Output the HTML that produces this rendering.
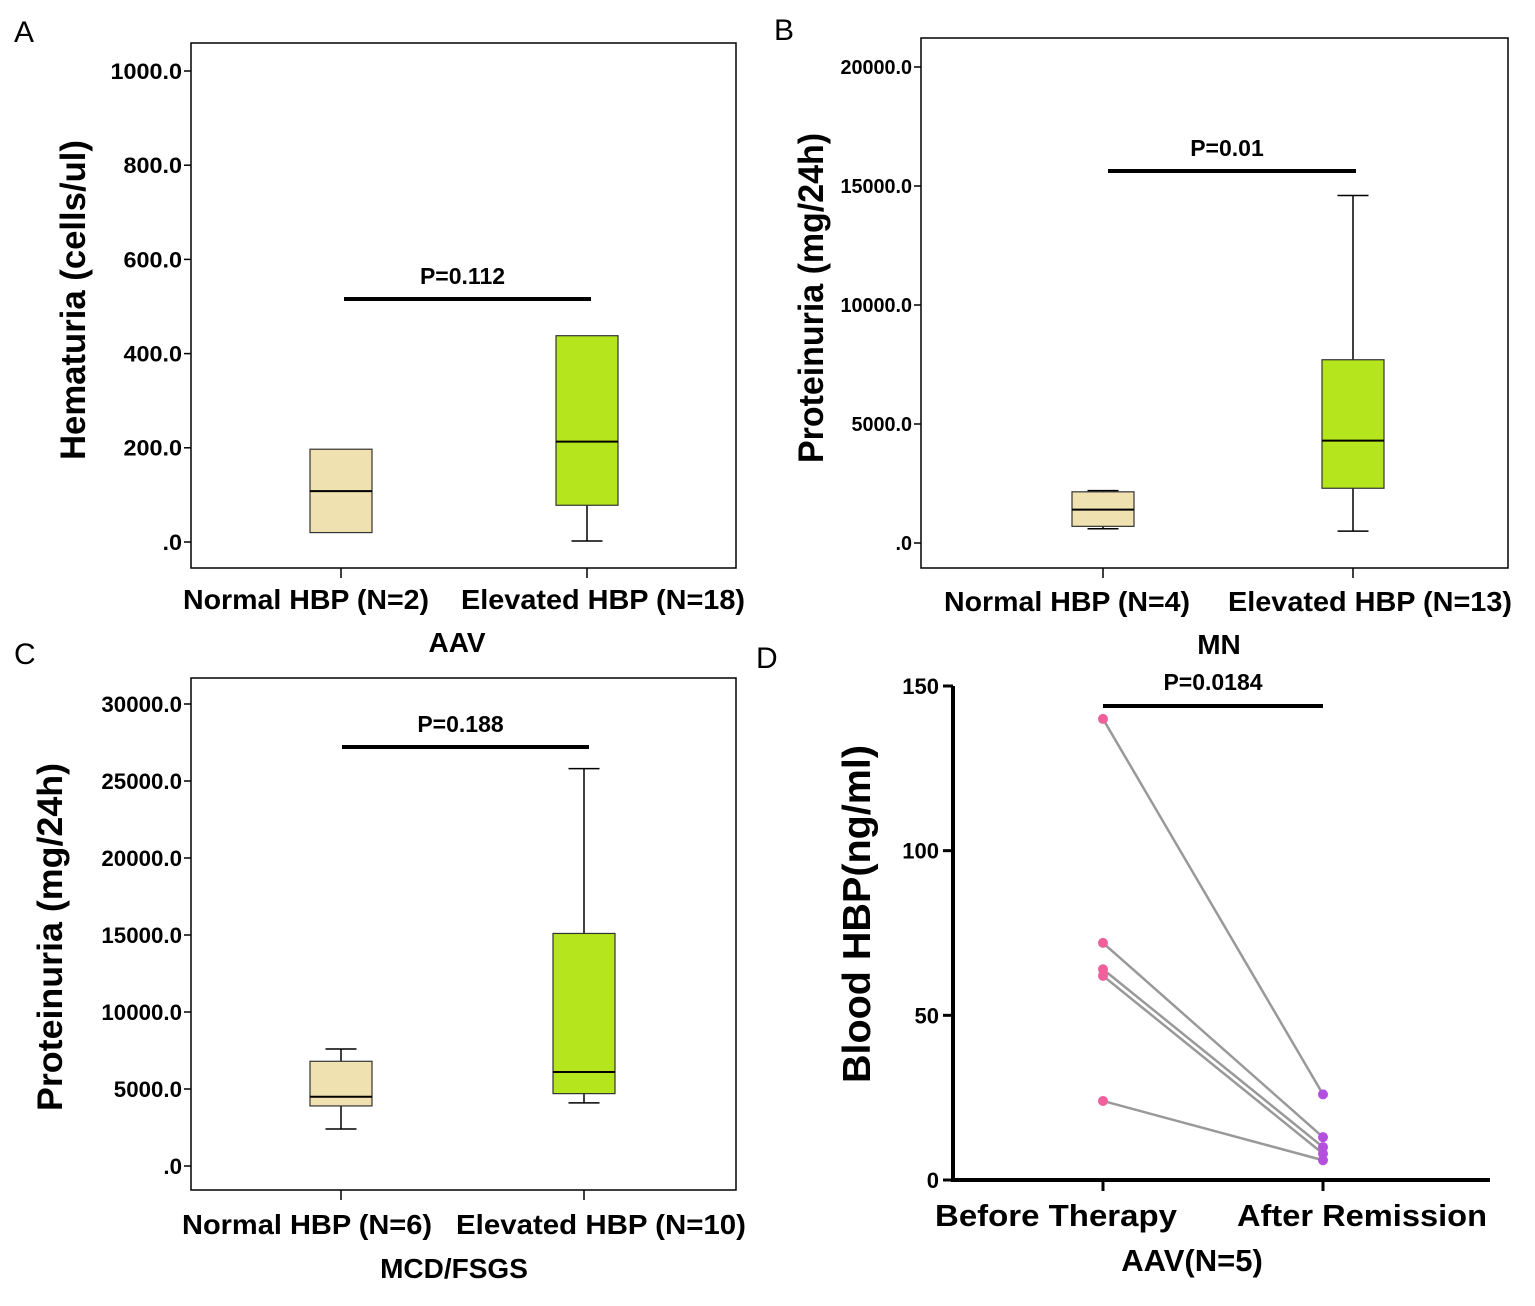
<!DOCTYPE html>
<html><head><meta charset="utf-8"><style>
html,body{margin:0;padding:0;background:#fff;}
svg{display:block;font-family:"Liberation Sans",sans-serif;}
</style></head><body>
<svg id="fig" width="1535" height="1306" viewBox="0 0 1535 1306"></svg>
<script>
// Panel A data
const aCats = ["Normal HBP (N=2)", "Elevated HBP (N=18)"];
const aTicks = [0, 200, 400, 600, 800, 1000];
const aTickLabels = [".0", "200.0", "400.0", "600.0", "800.0", "1000.0"];
const aLow = [20, 2];
const aQ1 = [20, 78];
const aMed = [108, 213];
const aQ3 = [197, 438];
const aHigh = [197, 438];
// Panel B data
const bCats = ["Normal HBP (N=4)", "Elevated HBP (N=13)"];
const bTicks = [0, 5000, 10000, 15000, 20000];
const bTickLabels = [".0", "5000.0", "10000.0", "15000.0", "20000.0"];
const bLow = [600, 500];
const bQ1 = [700, 2300];
const bMed = [1400, 4300];
const bQ3 = [2150, 7700];
const bHigh = [2200, 14600];
// Panel C data
const cCats = ["Normal HBP (N=6)", "Elevated HBP (N=10)"];
const cTicks = [0, 5000, 10000, 15000, 20000, 25000, 30000];
const cTickLabels = [".0", "5000.0", "10000.0", "15000.0", "20000.0", "25000.0", "30000.0"];
const cLow = [2400, 4100];
const cQ1 = [3900, 4700];
const cMed = [4500, 6100];
const cQ3 = [6800, 15100];
const cHigh = [7600, 25800];
// Panel D data
const dCats = ["Before Therapy", "After Remission"];
const dTicks = [0, 50, 100, 150];
const dBefore = [140, 72, 64, 62, 24];
const dAfter = [26, 13, 10, 8, 6];

const NS = "http://www.w3.org/2000/svg";
const svg = document.getElementById("fig");
function el(tag, attrs, parent, text) {
  const e = document.createElementNS(NS, tag);
  for (const k in attrs) e.setAttribute(k, attrs[k]);
  if (text !== undefined) e.textContent = text;
  (parent || svg).appendChild(e);
  return e;
}
function lin(d0, d1, r0, r1) { return v => r0 + (v - d0) * (r1 - r0) / (d1 - d0); }
function labWidth(s, cw) { let w = 0; for (const ch of s) w += (ch === "." ? 0.5 : 1) * cw; return w; }

function boxPanel(cfg) {
  const g = el("g", {});
  
  
  const y = lin(0, cfg.v1, cfg.y0, cfg.y1);
  const fr = el("rect", {x: cfg.fx0, y: cfg.fy0, width: cfg.fx1 - cfg.fx0, height: cfg.fy1 - cfg.fy0, fill: "none", stroke: "#000", "stroke-width": 1.5}, g);
  
  
  cfg.ticks.forEach((t, i) => {
    const yy = y(t);
    el("line", {x1: cfg.fx0 - 7, x2: cfg.fx0, y1: yy, y2: yy, stroke: "#000", "stroke-width": 1.5}, g);
    const tl = el("text", {x: cfg.fx0 - 9, y: yy + cfg.tfs * 0.36, "text-anchor": "end", "font-size": cfg.tfs, "font-weight": "bold", "textLength": labWidth(cfg.tickLabels[i], cfg.tcw), "lengthAdjust": "spacingAndGlyphs"}, g, cfg.tickLabels[i]);
    
    
  });
  const fills = ["#efe2b0", "#b5e61d"];
  cfg.cats.forEach((c, i) => {
    const cx = cfg.cx[i], hw = cfg.hw;
    el("line", {x1: cx, x2: cx, y1: cfg.fy1, y2: cfg.fy1 + 10, stroke: "#000", "stroke-width": 1.5}, g);
    const lab = el("text", {x: cfg.labX[i], y: cfg.labY, "text-anchor": "middle", "font-size": 28, "font-weight": "bold", "textLength": cfg.labW[i], "lengthAdjust": "spacingAndGlyphs"}, g, c);
    
    
    if (cfg.high[i] > cfg.q3[i]) {
      el("line", {x1: cx, x2: cx, y1: y(cfg.q3[i]), y2: y(cfg.high[i]), stroke: "#000", "stroke-width": 1.5}, g);
      el("line", {x1: cx - hw / 2, x2: cx + hw / 2, y1: y(cfg.high[i]), y2: y(cfg.high[i]), stroke: "#000", "stroke-width": 1.5}, g);
    }
    if (cfg.low[i] < cfg.q1[i]) {
      el("line", {x1: cx, x2: cx, y1: y(cfg.q1[i]), y2: y(cfg.low[i]), stroke: "#000", "stroke-width": 1.5}, g);
      el("line", {x1: cx - hw / 2, x2: cx + hw / 2, y1: y(cfg.low[i]), y2: y(cfg.low[i]), stroke: "#000", "stroke-width": 1.5}, g);
    }
    const b = el("rect", {x: cx - hw, y: y(cfg.q3[i]), width: 2 * hw, height: y(cfg.q1[i]) - y(cfg.q3[i]), fill: fills[i], stroke: "#333", "stroke-width": 1.2}, g);
    
    
    el("line", {x1: cx - hw, x2: cx + hw, y1: y(cfg.med[i]), y2: y(cfg.med[i]), stroke: "#000", "stroke-width": 2}, g);
  });
  const sb = el("line", {x1: cfg.sig[0], x2: cfg.sig[1], y1: cfg.sig[2], y2: cfg.sig[2], stroke: "#000", "stroke-width": 4}, g);
  
  
  const pt = el("text", {x: (cfg.sig[0] + cfg.sig[1]) / 2 - 5, y: cfg.sig[2] - 15, "text-anchor": "middle", "font-size": 23, "font-weight": "bold"}, g, cfg.p);
  
  
  const xt = el("text", {x: cfg.xtX, y: cfg.xtY, "text-anchor": "middle", "font-size": 28, "font-weight": "bold"}, g, cfg.xtitle);
  
  
  const yt = el("text", {x: 0, y: 0, "text-anchor": "middle", "font-size": 35, "font-weight": "bold", "textLength": cfg.ytW, "lengthAdjust": "spacingAndGlyphs", transform: `translate(${cfg.ytX},${cfg.ytY}) rotate(-90)`}, g, cfg.ytitle);
  
  
  const pl = el("text", {x: cfg.letter[0], y: cfg.letter[1], "font-size": 30}, g, cfg.letter[2]);
  
  
}

boxPanel({name: "panel-a", cats: aCats, ticks: aTicks, tickLabels: aTickLabels, low: aLow, q1: aQ1, med: aMed, q3: aQ3, high: aHigh,
  v1: 1000, y0: 542, y1: 71, fx0: 191, fx1: 736, fy0: 43, fy1: 568, cx: [341, 587], hw: 31, labY: 609, labX: [306, 603], labW: [246, 284],
  tfs: 22, tcw: 13,
  sig: [344, 591, 299], p: "P=0.112", xtitle: "AAV", xtX: 457, xtY: 652, ytitle: "Hematuria (cells/ul)", ytW: 320, ytX: 85, ytY: 300, letter: [14, 42, "A"]});
boxPanel({name: "panel-b", cats: bCats, ticks: bTicks, tickLabels: bTickLabels, low: bLow, q1: bQ1, med: bMed, q3: bQ3, high: bHigh,
  v1: 20000, y0: 543, y1: 67, fx0: 921, fx1: 1508, fy0: 38, fy1: 568, cx: [1103, 1353], hw: 31, labY: 611, labX: [1067, 1370], labW: [246, 284],
  tfs: 20, tcw: 11,
  sig: [1108, 1356, 171], p: "P=0.01", xtitle: "MN", xtX: 1219, xtY: 654, ytitle: "Proteinuria (mg/24h)", ytW: 330, ytX: 823, ytY: 298, letter: [774, 40, "B"]});
boxPanel({name: "panel-c", cats: cCats, ticks: cTicks, tickLabels: cTickLabels, low: cLow, q1: cQ1, med: cMed, q3: cQ3, high: cHigh,
  v1: 30000, y0: 1166, y1: 704, fx0: 191, fx1: 736, fy0: 678, fy1: 1190, cx: [341, 584], hw: 31, labY: 1234, labX: [307, 601], labW: [250, 290],
  tfs: 22, tcw: 12.4,
  sig: [342, 589, 747], p: "P=0.188", xtitle: "MCD/FSGS", xtX: 454, xtY: 1278, ytitle: "Proteinuria (mg/24h)", ytW: 348, ytX: 62, ytY: 937, letter: [14, 664, "C"]});

// Panel D
(function () {
  const g = el("g", {});
  
  
  const y = lin(0, 150, 1180, 686);
  const cx = [1103, 1323];
  const labX = [1056, 1362];
  const labW = [242, 250];
  const ax = el("path", {d: "M953,686 L953,1180 L1490,1180", fill: "none", stroke: "#000", "stroke-width": 4}, g);
  
  
  dTicks.forEach(t => {
    el("line", {x1: 943, x2: 953, y1: y(t), y2: y(t), stroke: "#000", "stroke-width": 3}, g);
    const tl = el("text", {x: 939, y: y(t) + 8, "text-anchor": "end", "font-size": 22, "font-weight": "bold"}, g, String(t));
    
    
  });
  dCats.forEach((c, i) => {
    el("line", {x1: cx[i], x2: cx[i], y1: 1180, y2: 1191, stroke: "#000", "stroke-width": 3}, g);
    const lab = el("text", {x: labX[i], y: 1226, "text-anchor": "middle", "font-size": 31, "font-weight": "bold", "textLength": labW[i], "lengthAdjust": "spacingAndGlyphs"}, g, c);
    
    
  });
  dBefore.forEach((v, i) => {
    const ln = el("line", {x1: cx[0], y1: y(v), x2: cx[1], y2: y(dAfter[i]), stroke: "#999", "stroke-width": 2.5}, g);
    
    
  });
  dBefore.forEach(v => {
    const p = el("circle", {cx: cx[0], cy: y(v), r: 5, fill: "#f0609a"}, g);
    
    
  });
  dAfter.forEach(v => {
    const p = el("circle", {cx: cx[1], cy: y(v), r: 5, fill: "#b44fe0"}, g);
    
    
  });
  const sb = el("line", {x1: 1103, x2: 1323, y1: 706, y2: 706, stroke: "#000", "stroke-width": 4}, g);
  
  
  const pt = el("text", {x: 1213, y: 690, "text-anchor": "middle", "font-size": 23, "font-weight": "bold"}, g, "P=0.0184");
  
  
  const xt = el("text", {x: 1192, y: 1271, "text-anchor": "middle", "font-size": 31, "font-weight": "bold"}, g, "AAV(N=5)");
  
  
  const yt = el("text", {x: 0, y: 0, "text-anchor": "middle", "font-size": 39, "font-weight": "bold", "textLength": 338, "lengthAdjust": "spacingAndGlyphs", transform: "translate(870,914) rotate(-90)"}, g, "Blood  HBP(ng/ml)");
  
  
  const pl = el("text", {x: 756, y: 668, "font-size": 30}, g, "D");
  
  
})();
</script>
</body></html>
